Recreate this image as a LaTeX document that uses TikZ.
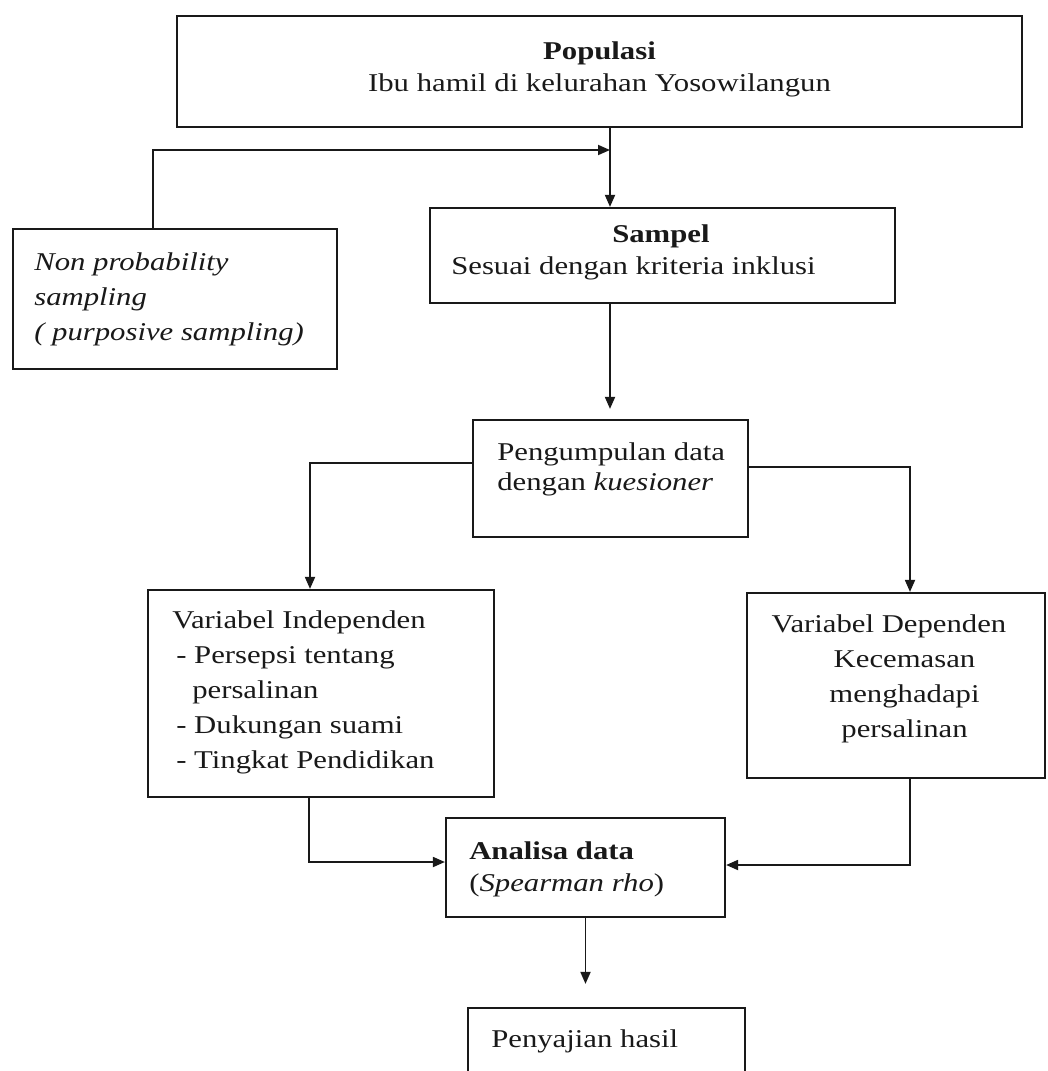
\documentclass[tikz,border=0pt]{standalone}
\usepackage{fontspec}
\setmainfont{Liberation Serif}[FakeStretch=1.2]
\usepackage{tikz}
\usetikzlibrary{arrows.meta,positioning}
\tikzset{
  fbox/.style={draw=black!90,line width=1.1pt,rectangle,inner sep=0pt},
  ftext/.style={inner sep=0pt,align=left,text=black!90,font=\fontsize{12.8pt}{17.5pt}\selectfont},
  ftextc/.style={ftext,align=center},
  flow/.style={-{Triangle[length=6pt,width=5pt]},line width=0.9pt,draw=black!90}
}

\begin{document}
\begin{tikzpicture}[x=0.5pt,y=-0.5pt]
  \useasboundingbox (0,0) rectangle (1048,1071);
  \clip (0,0) rectangle (1048,1071);

  \node[fbox,minimum width=422.5pt,minimum height=55.5pt] (pop) at (599.5,71.5) {};
  \node[fbox,minimum width=162pt,minimum height=70pt] (nonp) at (175,299) {};
  \node[fbox,minimum width=232.5pt,minimum height=47.5pt] (samp) at (662.5,255.5) {};
  \node[fbox,minimum width=137.5pt,minimum height=58.5pt] (kump) at (610.5,478.5) {};
  \node[fbox,minimum width=173pt,minimum height=103.5pt] (indep) at (321,693.5) {};
  \node[fbox,minimum width=149pt,minimum height=92.5pt] (dep) at (896,685.5) {};
  \node[fbox,minimum width=139.5pt,minimum height=49.5pt] (anal) at (585.5,867.5) {};
  \node[fbox,minimum width=138.5pt,minimum height=56pt] (saji) at (606.5,1064) {};

  \node[ftextc,below=13pt of pop.north] (popt) {\textbf{Populasi}\\[-1.5pt]Ibu hamil di kelurahan Yosowilangun};
  \node[ftext,below right=12pt and 11pt of nonp.north west] (nonpt) {\textit{Non probability}\\\textit{sampling}\\\textit{( purposive sampling)}};
  \node[ftext,below right=8.5pt and 11pt of samp.north west] (sampt) {\hspace*{80.5pt}\textbf{Sampel}\\[-1.5pt]Sesuai dengan kriteria inklusi};
  \node[ftext,below right=11.5pt and 12.5pt of kump.north west] (kumpt) {Pengumpulan data\\[-2.5pt]dengan \textit{kuesioner}};
  \node[ftext,below right=10.5pt and 12.5pt of indep.north west] (indept) {Variabel Independen\\\hspace*{2pt}- Persepsi tentang\\\hspace*{10pt}persalinan\\\hspace*{2pt}- Dukungan suami\\\hspace*{2pt}- Tingkat Pendidikan};
  \node[ftextc,below=11pt of dep.north,xshift=-3.5pt] (dept) {Variabel Dependen\\\hspace*{15.5pt}Kecemasan\\\hspace*{15.5pt}menghadapi\\\hspace*{15.5pt}persalinan};
  \node[ftext,below right=12pt and 12pt of anal.north west] (analt) {\textbf{Analisa data}\\[-1.5pt](\textit{Spearman rho})};
  \node[ftext,below right=11pt and 12pt of saji.north west] (sajit) {Penyajian hasil};

  \coordinate (jn) at (610,150);
  \coordinate (npc) at (153,150);

  \draw[flow] (pop.south -| jn) -- (samp.north -| jn);
  \draw[flow] (nonp.north -| npc) -- (npc) -- (jn);
  \draw[flow,shorten >=5pt] (samp.south -| jn) -- (kump.north -| jn);
  \draw[flow] ([yshift=7.75pt]kump.west) -| ([xshift=-5.5pt]indep.north);
  \draw[flow] ([yshift=5.75pt]kump.east) -| ([xshift=7pt]dep.north);
  \draw[flow] ([xshift=-6pt]indep.south) |- ([yshift=2.75pt]anal.west);
  \draw[flow] ([xshift=7pt]dep.south) |- ([yshift=1.25pt]anal.east);
  \draw[flow,shorten >=11.5pt] (anal.south) -- (anal.south |- saji.north);
\end{tikzpicture}
\end{document}
